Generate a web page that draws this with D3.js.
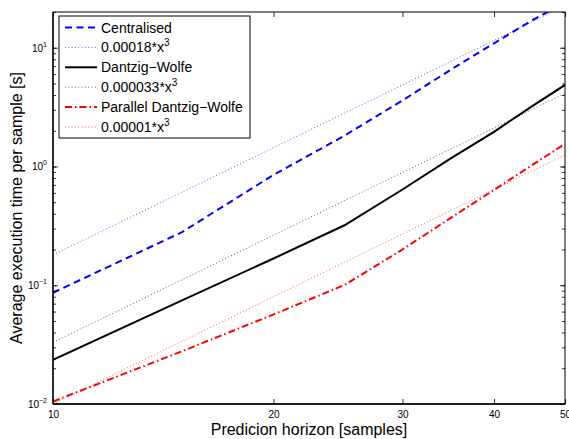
<!DOCTYPE html>
<html><head><meta charset="utf-8">
<script src="https://cdn.jsdelivr.net/npm/d3@7"></script>
<style>body{margin:0;background:#fff}svg{display:block}text{font-family:"Liberation Sans",Arial,Helvetica,sans-serif}</style>
</head><body>
<script>
const horizon = [10, 15, 20, 25, 30, 35, 40, 45, 50];
const centralised = [0.0865, 0.28, 0.85, 1.82, 3.6, 6.6, 10.9, 16.9, 24];
const fitCentral = [0.18, 0.6075, 1.44, 2.8125, 4.86, 7.7175, 11.52, 16.4025, 22.5];
const dantzigWolfe = [0.0235, 0.0747, 0.168, 0.32, 0.64, 1.18, 1.96, 3.19, 4.86];
const fitDW = [0.033, 0.111375, 0.264, 0.515625, 0.891, 1.414875, 2.112, 3.007125, 4.125];
const parallelDW = [0.0105, 0.0278, 0.0568, 0.1005, 0.2, 0.373, 0.635, 1.02, 1.55];
const fitParallel = [0.01, 0.03375, 0.08, 0.15625, 0.27, 0.42875, 0.64, 0.91125, 1.25];
const seriesNames = ["Centralised", "0.00018*x", "Dantzig\u2212Wolfe", "0.000033*x", "Parallel Dantzig\u2212Wolfe", "0.00001*x"];
const xTicks = [10, 20, 30, 40, 50];
const yTicks = [0.01, 0.1, 1, 10];
const yExps = ["\u22122", "\u22121", "0", "1"];

(function () {
const W = 569, H = 439;
const m = {l: 53, r: 4, t: 12, b: 35};
const svg = d3.select("body").append("svg").attr("width", W).attr("height", H);
const x = d3.scaleLog().domain([10, 50]).range([m.l, W - m.r]);
const y = d3.scaleLog().domain([0.01, 20]).range([H - m.b, m.t]);

const styles = [
  {data: centralised, color: "#0000ff", w: 2, dash: "7,4.5", sup: false},
  {data: fitCentral, color: "#0000ff", w: 0.8, dash: "1,2.3", sup: true, op: 0.8},
  {data: dantzigWolfe, color: "#000000", w: 2, dash: null, sup: false},
  {data: fitDW, color: "#000000", w: 0.8, dash: "1,2.3", sup: true, op: 0.8},
  {data: parallelDW, color: "#ff0000", w: 2, dash: "7,3,1.5,3", sup: false},
  {data: fitParallel, color: "#ff0000", w: 0.8, dash: "1,2.3", sup: true, op: 0.8}
];

svg.append("defs").append("clipPath").attr("id", "clip").append("rect")
  .attr("x", m.l).attr("y", m.t).attr("width", W - m.l - m.r).attr("height", H - m.t - m.b);

const line = d3.line().x(d => x(d[0])).y(d => y(d[1]));
const g = svg.append("g").attr("clip-path", "url(#clip)");
[1, 3, 5, 0, 2, 4].forEach(i => {
  const s = styles[i];
  g.append("path").datum(horizon.map((h, k) => [h, s.data[k]]))
    .attr("d", line).attr("fill", "none").attr("stroke", s.color)
    .attr("stroke-width", s.w).attr("stroke-dasharray", s.dash)
    .attr("stroke-opacity", s.op || 1);
});

const axBottom = d3.axisBottom(x).tickValues(xTicks).tickSize(-5).tickPadding(7).tickFormat(d3.format("d"));
const axTop = d3.axisTop(x).tickValues(xTicks).tickSize(-5).tickFormat("");
const minor = [];
for (let e = -2; e <= 1; e++) for (let k = 1; k <= 9; k++) { const v = k * Math.pow(10, e); if (v <= 20) minor.push(v); }
const axLeft = d3.axisLeft(y).tickValues(minor).tickSize(-3).tickFormat("");
const axRight = d3.axisRight(y).tickValues(minor).tickSize(-3).tickFormat("");
const axLeftMaj = d3.axisLeft(y).tickValues(yTicks).tickSize(-5).tickFormat("");
const axRightMaj = d3.axisRight(y).tickValues(yTicks).tickSize(-5).tickFormat("");

function styleAxis(sel) {
  sel.select(".domain").remove();
  sel.selectAll("line").attr("stroke", "#000").attr("stroke-width", 0.8);
  sel.selectAll("text").attr("font-size", 10).attr("fill", "#000");
}
svg.append("g").attr("transform", `translate(0,${H - m.b})`).call(axBottom).call(styleAxis);
svg.append("g").attr("transform", `translate(0,${m.t})`).call(axTop).call(styleAxis);
svg.append("g").attr("transform", `translate(${m.l},0)`).call(axLeft).call(styleAxis);
svg.append("g").attr("transform", `translate(${W - m.r},0)`).call(axRight).call(styleAxis);
svg.append("g").attr("transform", `translate(${m.l},0)`).call(axLeftMaj).call(styleAxis);
svg.append("g").attr("transform", `translate(${W - m.r},0)`).call(axRightMaj).call(styleAxis);

yTicks.forEach((v, i) => {
  const t = svg.append("text").attr("x", m.l - 6).attr("y", y(v) + 4)
    .attr("text-anchor", "end").attr("font-size", 10).attr("fill", "#000");
  t.append("tspan").text("10");
  t.append("tspan").attr("dy", -5).attr("font-size", 7).text(yExps[i]);
});

svg.append("rect").attr("x", m.l).attr("y", m.t).attr("width", W - m.l - m.r).attr("height", H - m.t - m.b)
  .attr("fill", "none").attr("stroke", "#000").attr("stroke-width", 1);
svg.append("line").attr("x1", m.l).attr("x2", W - m.r).attr("y1", H - m.b).attr("y2", H - m.b)
  .attr("stroke", "#000").attr("stroke-width", 1.6);
svg.append("line").attr("x1", m.l).attr("x2", m.l).attr("y1", m.t).attr("y2", H - m.b)
  .attr("stroke", "#000").attr("stroke-width", 1.3);

svg.append("text").attr("x", (m.l + W - m.r) / 2).attr("y", 434.5).attr("text-anchor", "middle")
  .attr("font-size", 16).text("Predicion horizon [samples]");
svg.append("text").attr("transform", `translate(22,${(m.t + H - m.b) / 2}) rotate(-90)`)
  .attr("text-anchor", "middle").attr("font-size", 16).text("Average execution time per sample [s]");

const lg = svg.append("g");
lg.append("rect").attr("x", 59).attr("y", 16).attr("width", 191).attr("height", 122)
  .attr("fill", "#fff").attr("stroke", "#000").attr("stroke-width", 1);
styles.forEach((s, i) => {
  const yy = 27.5 + i * 19.9;
  lg.append("line").attr("x1", 65).attr("x2", 97).attr("y1", yy).attr("y2", yy)
    .attr("stroke", s.color).attr("stroke-width", s.w).attr("stroke-dasharray", s.dash)
    .attr("stroke-opacity", s.op || 1);
  const t = lg.append("text").attr("x", 101).attr("y", yy + 5).attr("font-size", 14).attr("fill", "#000");
  t.append("tspan").text(seriesNames[i]);
  if (s.sup) t.append("tspan").attr("dy", -6).attr("font-size", 10).text("3");
});
})();
</script>
</body></html>
